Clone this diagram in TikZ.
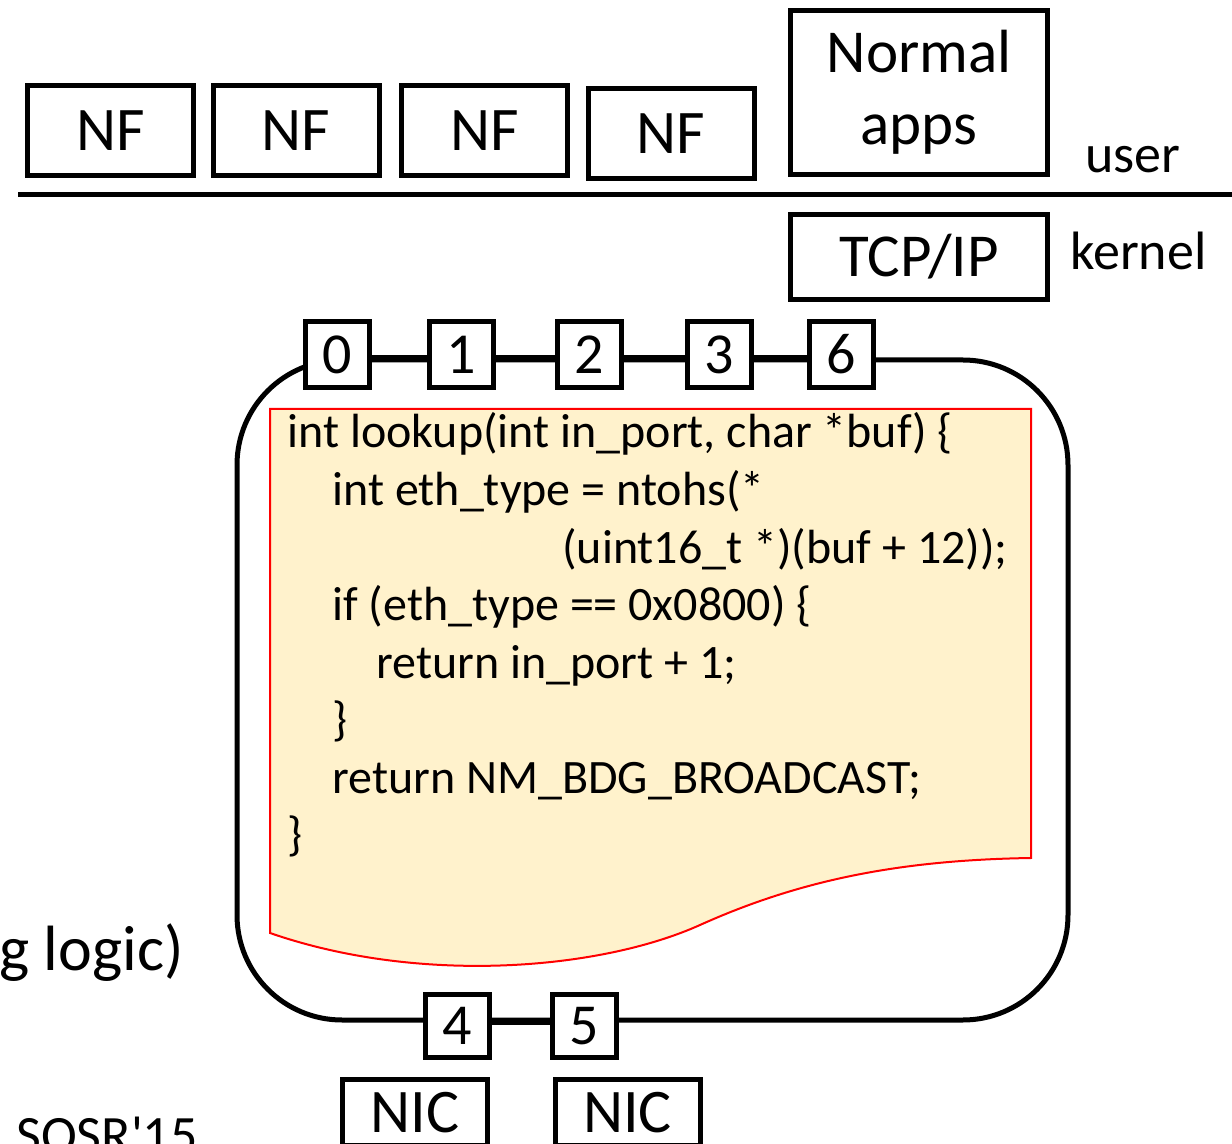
\documentclass[tikz,border=0pt]{standalone}
\usepackage{fontspec}
\setmainfont{Carlito}
\definecolor{docfill}{HTML}{FFF2CC}
\tikzset{
  frm/.style={draw, line width=2.5pt, fill=white, inner sep=0pt},
  nfbox/.style={frm, minimum width=83pt, minimum height=45pt, font=\fontsize{31}{36}\selectfont},
  kbox/.style={frm, minimum width=128.5pt, font=\fontsize{30.5}{36}\selectfont, align=center},
  port/.style={frm, minimum width=32pt, minimum height=33pt, font=\fontsize{29}{34}\selectfont},
  nic/.style={frm, minimum width=72.5pt, minimum height=33pt, font=\fontsize{31}{36}\selectfont},
  link/.style={line width=2.2pt},
  codeline/.style={anchor=base west, inner sep=0pt, font=\fontsize{24}{28.75}\selectfont},
  lbl/.style={inner sep=0pt, font=\fontsize{27}{32}\selectfont}
}
\begin{document}
\begin{tikzpicture}[x=0.5pt, y=-0.5pt]
\useasboundingbox (0,0) rectangle (1232,1144);
\clip (0,0) rectangle (1232,1144);

% user space
\node[nfbox] (nf1) at (110.5,130.5) {NF};
\node[nfbox] (nf2) at (296,130.5) {NF};
\node[nfbox] (nf3) at (484.5,130.5) {NF};
\node[nfbox] (nf4) at (671,133.5) {NF};
\node[kbox, minimum height=82pt] (apps) at (919,92.5) {Normal\\apps};
\node[lbl, anchor=base west] (user) at (1085,173) {user};

% user/kernel boundary
\draw[line width=2.5pt] (18,195) -- (1232,195);

% kernel space
\node[kbox, minimum height=42.5pt] (tcp) at (919,257) {TCP/IP};
\node[lbl, anchor=base west] (kernel) at (1070,270) {kernel};

% switch frame
\node[draw, line width=2.5pt, rounded corners=52.5pt, minimum width=415.5pt,
      minimum height=330pt, inner sep=0pt] (bridge) at (652.5,690) {};

% lookup function
\path[draw=red, line width=1pt, fill=docfill]
  (270,409) -- (1031,409) -- (1031,858)
  .. controls (900,860) and (800,880) .. (700,925)
  .. controls (600,970) and (420,985) .. (270,933) -- cycle;

\node[codeline] (c1) at (287,448) {int lookup(int in\_port, char *buf) \{};
\node[codeline] (c2) at (332,505.5) {int eth\_type = ntohs(*};
\node[codeline] (c3) at (562,563) {(uint16\_t *)(buf + 12));};
\node[codeline] (c4) at (332,620.5) {if (eth\_type == 0x0800) \{};
\node[codeline] (c5) at (376,678) {return in\_port + 1;};
\node[codeline] (c6) at (332,735.5) {\}};
\node[codeline] (c7) at (332,793) {return NM\_BDG\_BROADCAST;};
\node[codeline] (c8) at (287,850) {\}};

% ports on the top edge
\node[port] (p0) at (337.5,354.5) {0};
\node[port] (p1) at (461,354.5) {1};
\node[port] (p2) at (589.5,354.5) {2};
\node[port] (p3) at (719,354.5) {3};
\node[port] (p6) at (841.5,354.5) {6};
\draw[link] (p0.east |- bridge.north) -- (p1.west |- bridge.north);
\draw[link] (p1.east |- bridge.north) -- (p2.west |- bridge.north);
\draw[link] (p2.east |- bridge.north) -- (p3.west |- bridge.north);
\draw[link] (p3.east |- bridge.north) -- (p6.west |- bridge.north);

% ports on the bottom edge and the NICs
\node[port, minimum height=31.5pt] (p4) at (457,1026) {4};
\node[port, minimum height=31.5pt] (p5) at (584,1026) {5};
\draw[link] (p4.east |- bridge.south) -- (p5.west |- bridge.south);
\node[nic] (nic1) at (415,1112.5) {NIC};
\node[nic] (nic2) at (627.5,1112.5) {NIC};

% side labels
\node[inner sep=0pt, anchor=base east, font=\fontsize{32}{38}\selectfont] (logic) at (184,970) {g logic)};
\node[lbl, anchor=base west] (conf) at (16,1153) {SOSR\textquotesingle 15};
\end{tikzpicture}
\end{document}
